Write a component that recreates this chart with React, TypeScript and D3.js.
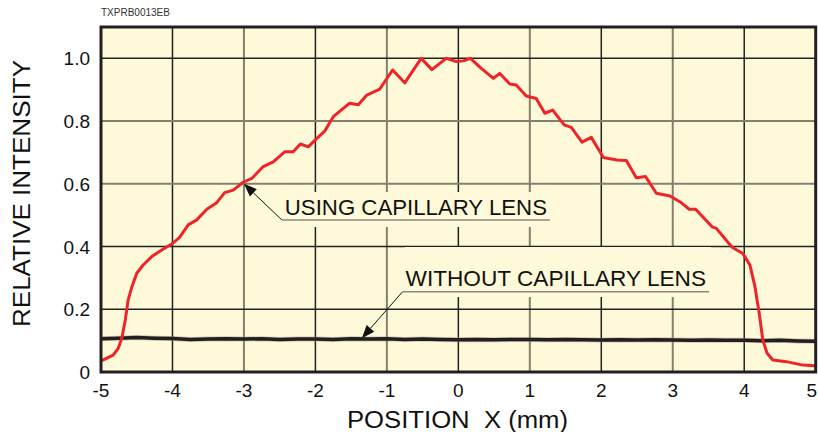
import * as d3 from "d3";

// measured profile, lens in place
const usingX = [
  -4.99, -4.83, -4.76, -4.71, -4.66, -4.62, -4.57, -4.5, -4.41, -4.29, -4.15, -4.01, -3.9, -3.78, -3.66,
  -3.52, -3.38, -3.27, -3.15, -3.01, -2.89, -2.73, -2.59, -2.43, -2.31, -2.21, -2.1, -1.98, -1.87, -1.75,
  -1.52, -1.4, -1.28, -1.1, -0.92, -0.75, -0.52, -0.37, -0.17, -0.03, 0.07, 0.17, 0.32, 0.49, 0.58, 0.72,
  0.81, 0.95, 1.09, 1.21, 1.32, 1.48, 1.58, 1.73, 1.86, 2.03, 2.22, 2.35, 2.49, 2.62, 2.77, 2.96, 3.1,
  3.23, 3.32, 3.55, 3.61, 3.83, 3.98, 4.08, 4.15, 4.21, 4.26, 4.32, 4.4, 4.59, 4.82, 4.99,
];
const usingY = [
  0.036, 0.054, 0.075, 0.107, 0.166, 0.23, 0.27, 0.315, 0.341, 0.368, 0.389, 0.408, 0.429, 0.469, 0.485,
  0.519, 0.54, 0.572, 0.58, 0.605, 0.617, 0.655, 0.67, 0.702, 0.702, 0.727, 0.718, 0.745, 0.768, 0.814,
  0.857, 0.852, 0.883, 0.902, 0.963, 0.922, 1.0, 0.964, 1.0, 0.99, 0.992, 1.0, 0.968, 0.936, 0.952, 0.918,
  0.915, 0.88, 0.872, 0.825, 0.835, 0.788, 0.78, 0.733, 0.748, 0.684, 0.676, 0.674, 0.619, 0.623, 0.57,
  0.561, 0.543, 0.519, 0.519, 0.463, 0.458, 0.398, 0.378, 0.341, 0.272, 0.187, 0.102, 0.06, 0.038, 0.033,
  0.022, 0.02,
];

// without lens: nearly flat
const withoutX = [
  -5, -4.75, -4.5, -4.25, -4, -3.75, -3.5, -3.25, -3, -2.75, -2.5, -2.25, -2, -1.75, -1.5, -1.25, -1,
  -0.75, -0.5, -0.25, 0, 0.25, 0.5, 0.75, 1, 1.25, 1.5, 1.75, 2, 2.25, 2.5, 2.75, 3, 3.25, 3.5, 3.75, 4,
  4.25, 4.5, 4.75, 5,
];
const withoutY = [
  0.106, 0.108, 0.11, 0.108, 0.107, 0.104, 0.105, 0.106, 0.105, 0.106, 0.104, 0.105, 0.105, 0.104, 0.106,
  0.105, 0.106, 0.104, 0.105, 0.104, 0.103, 0.104, 0.103, 0.104, 0.104, 0.103, 0.104, 0.103, 0.102, 0.103,
  0.102, 0.103, 0.102, 0.101, 0.102, 0.101, 0.101, 0.1, 0.101, 0.099, 0.098,
];

const xTicks = [-5, -4, -3, -2, -1, 0, 1, 2, 3, 4, 5];
const yTicks = [0, 0.2, 0.4, 0.6, 0.8, 1.0];
const yTickLabels = ["0", "0.2", "0.4", "0.6", "0.8", "1.0"];

// annotations: label, arrow tip, leader start (data units)
const notes = [
  { text: "USING CAPILLARY LENS", tip: [-3, 0.6], from: [-2.47, 0.485], end: 550, base: 0.5 },
  { text: "WITHOUT CAPILLARY LENS", tip: [-1.35, 0.108], from: [-0.78, 0.256], end: 709, base: 0.273 },
];

const W = 818;
const H = 432;
const font = "'Liberation Sans', Arial, Helvetica, sans-serif";

export default function App() {
  const x = d3.scaleLinear().domain([-5, 5]).range([101, 815.7]);
  const y = d3.scaleLinear().domain([0, 1.1]).range([372, 27]);

  const line = d3
    .line<[number, number]>()
    .x((d) => x(d[0]))
    .y((d) => y(d[1]));

  const usingPts = usingX.map((v, i) => [v, usingY[i]] as [number, number]);
  const withoutPts = withoutX.map((v, i) => [v, withoutY[i]] as [number, number]);

  const bg = "#fef9d8";

  return (
    <svg width={W} height={H} style={{ position: "absolute", left: 0, top: 0 }} fontFamily={font}>
      <defs>
        <clipPath id="plot">
          <rect x={x(-5)} y={y(1.1)} width={x(5) - x(-5)} height={y(0) - y(1.1)} />
        </clipPath>
      </defs>
      <rect width={W} height={H} fill="#fff" />
      <text x={101} y={16} fontSize={10} fill="#333">
        TXPRB0013EB
      </text>

      <rect x={x(-5)} y={y(1.1)} width={x(5) - x(-5)} height={y(0) - y(1.1)} fill={bg} />

      {/* grid */}
      {xTicks.slice(1, -1).map((t) => (
        <line
          key={"gx" + t}
          x1={x(t)}
          x2={x(t)}
          y1={y(1.1)}
          y2={y(0)}
          stroke={Math.abs(t) % 2 === 1 ? "#857f6c" : "#222"}
          strokeWidth={Math.abs(t) % 2 === 1 ? 2 : 1.5}
        />
      ))}
      {yTicks.slice(1).map((t) => (
        <line
          key={"gy" + t}
          x1={x(-5)}
          x2={x(5)}
          y1={y(t)}
          y2={y(t)}
          stroke={t === 0.6 || t === 0.8 ? "#857f6c" : "#222"}
          strokeWidth={t === 0.6 || t === 0.8 ? 2 : 1.5}
        />
      ))}

      {/* label knock-outs */}
      <rect x={279} y={192} width={273} height={35} fill={bg} />
      <rect x={405} y={247} width={306} height={50} fill={bg} />

      <g clipPath="url(#plot)" fill="none" strokeLinejoin="round">
        <path d={line(withoutPts) ?? ""} stroke="#9a968a" strokeWidth={5} opacity={0.5} />
        <path d={line(withoutPts) ?? ""} stroke="#231f20" strokeWidth={3.5} />
        <path d={line(usingPts) ?? ""} stroke="#ee2428" strokeWidth={3} />
      </g>

      <rect
        x={x(-5)}
        y={y(1.1)}
        width={x(5) - x(-5)}
        height={y(0) - y(1.1)}
        fill="none"
        stroke="#231f20"
        strokeWidth={3}
      />

      {/* annotations */}
      {notes.map((n) => {
        const tx = x(n.tip[0]);
        const ty = y(n.tip[1]);
        const fx = x(n.from[0]);
        const fy = y(n.from[1]);
        const ang = Math.atan2(ty - fy, tx - fx);
        const L = 13;
        const hw = 5;
        const bx = tx - L * Math.cos(ang);
        const by = ty - L * Math.sin(ang);
        const px = -Math.sin(ang) * hw;
        const py = Math.cos(ang) * hw;
        return (
          <g key={n.text}>
            <line x1={fx} y1={fy} x2={bx} y2={by} stroke="#111" strokeWidth={1} />
            <polygon points={`${tx},${ty} ${bx + px},${by + py} ${bx - px},${by - py}`} fill="#111" />
            <line x1={fx} y1={fy} x2={n.end} y2={fy} stroke="#888" strokeWidth={1.5} />
            <text
              x={fx + 3}
              y={y(n.base)}
              fontSize={22}
              fill="#111"
              textLength={n.end - fx - 6}
              lengthAdjust="spacingAndGlyphs"
            >
              {n.text}
            </text>
          </g>
        );
      })}

      {/* tick labels */}
      {xTicks.map((t, i) => {
        const last = i === xTicks.length - 1;
        return (
          <text
            key={"tx" + t}
            x={last ? W - 1 : x(t)}
            y={397}
            fontSize={19}
            textAnchor={last ? "end" : "middle"}
            fill="#111"
          >
            {t}
          </text>
        );
      })}
      {yTicks.map((t, i) => (
        <text key={"ty" + t} x={90} y={y(t) + 7} fontSize={19} textAnchor="end" fill="#111">
          {yTickLabels[i]}
        </text>
      ))}

      <text
        x={347}
        y={428}
        fontSize={23}
        fill="#111"
        textLength={221}
        lengthAdjust="spacingAndGlyphs"
        xmlSpace="preserve"
      >
        {"POSITION  X (mm)"}
      </text>
      <text
        transform={`translate(30,${193.5}) rotate(-90)`}
        textAnchor="middle"
        fontSize={24}
        fill="#111"
        textLength={267}
        lengthAdjust="spacingAndGlyphs"
      >
        RELATIVE INTENSITY
      </text>
    </svg>
  );
}
